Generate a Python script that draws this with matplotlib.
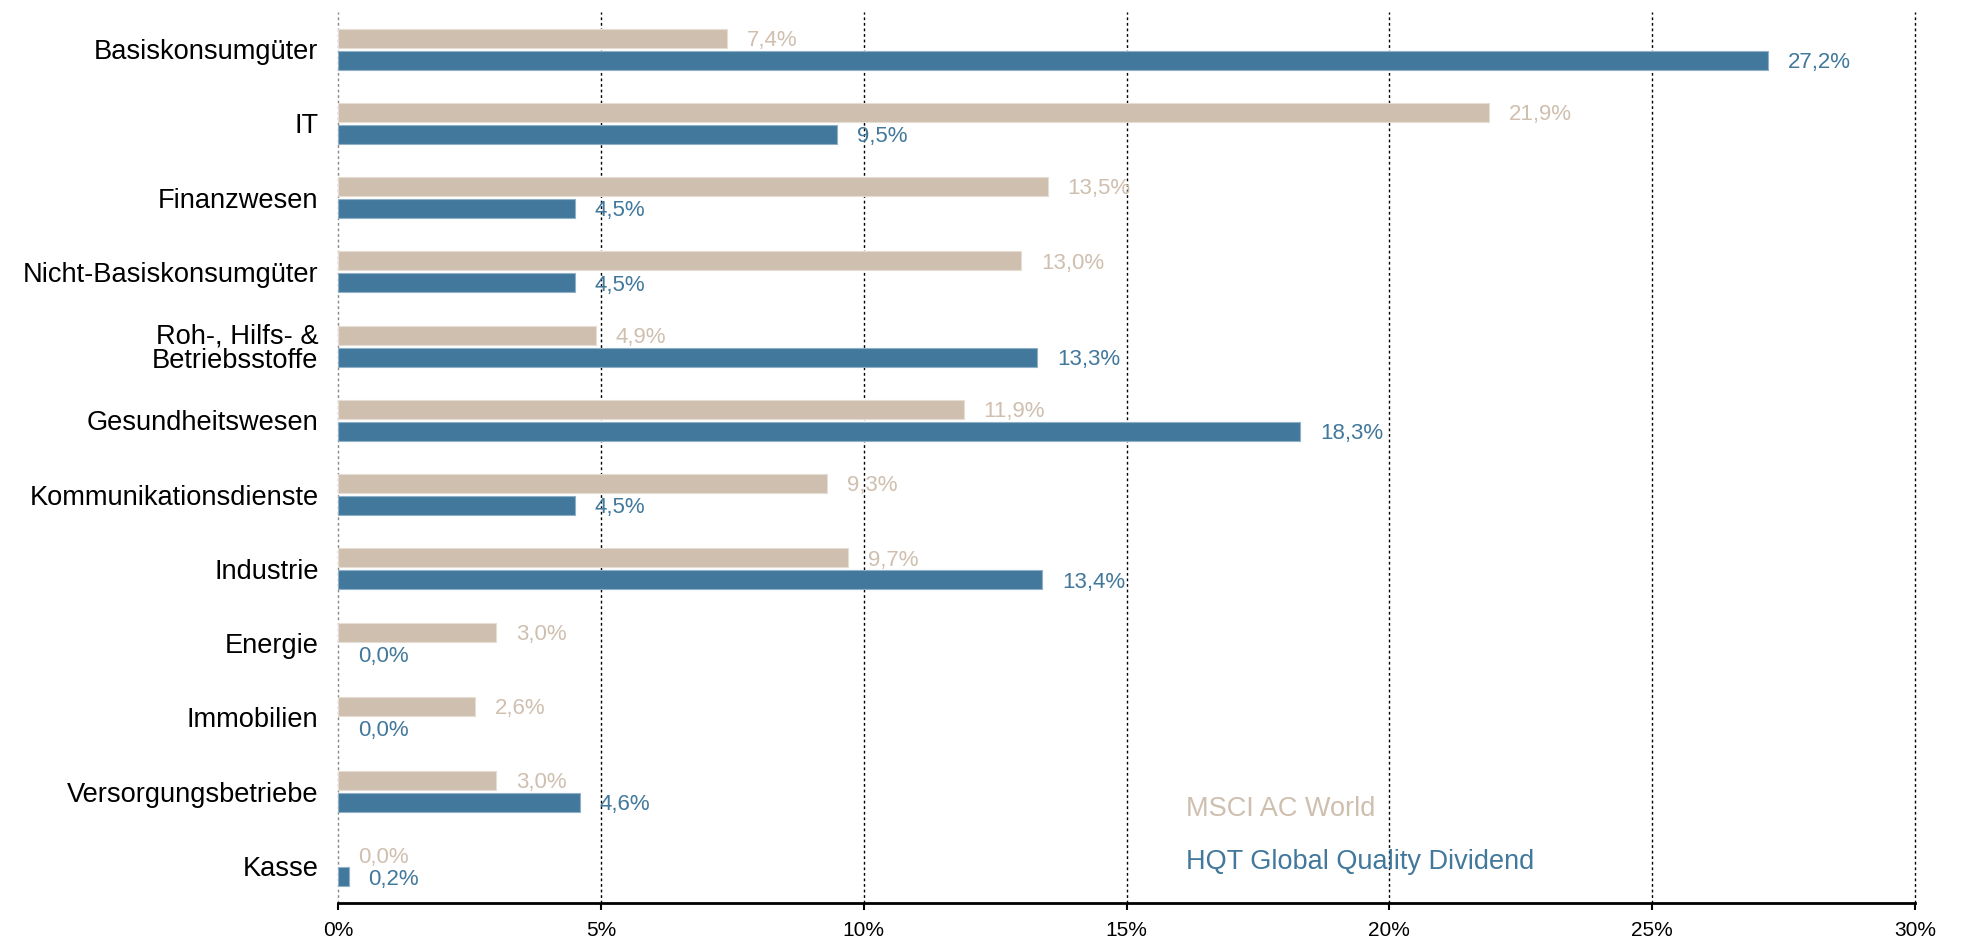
import matplotlib.pyplot as plt
import numpy as np

plt.rcParams['font.family'] = ['Liberation Sans', 'DejaVu Sans']

categories = ["Basiskonsumgüter", "IT", "Finanzwesen", "Nicht-Basiskonsumgüter",
              "Roh-, Hilfs- &\nBetriebsstoffe", "Gesundheitswesen", "Kommunikationsdienste",
              "Industrie", "Energie", "Immobilien", "Versorgungsbetriebe", "Kasse"]
msci = [7.4, 21.9, 13.5, 13.0, 4.9, 11.9, 9.3, 9.7, 3.0, 2.6, 3.0, 0.0]
hqt = [27.2, 9.5, 4.5, 4.5, 13.3, 18.3, 4.5, 13.4, 0.0, 0.0, 4.6, 0.2]
xticks = [0, 5, 10, 15, 20, 25, 30]
xticklabels = ["0%", "5%", "10%", "15%", "20%", "25%", "30%"]
series_names = ["MSCI AC World", "HQT Global Quality Dividend"]

c_msci = "#CFBFAF"
c_hqt = "#41789B"

fig = plt.figure(figsize=(19.61, 9.41), dpi=100)
ax = fig.add_axes([338/1961, 1 - 903/941, (1915-338)/1961, (903-12)/941])

y = np.arange(len(categories))
h = 0.255
off = 0.148
msci_lw = [0.8 if v > 0 else 0 for v in msci]
hqt_lw = [0.8 if v > 0 else 0 for v in hqt]
ax.barh(y - off, msci, height=h, color=c_msci, edgecolor="#e6ddd4", linewidth=msci_lw, zorder=3)
ax.barh(y + off, hqt, height=h, color=c_hqt, edgecolor="#8fb0c6", linewidth=hqt_lw, zorder=3)

dx = 0.38
for yi, v in zip(y, msci):
    ax.text(v + dx, yi - off + 0.03, f"{v:.1f}%".replace(".", ","), color=c_msci,
            fontsize=16, va="center", ha="left", zorder=4)
for yi, v in zip(y, hqt):
    ax.text(v + dx, yi + off + 0.03, f"{v:.1f}%".replace(".", ","), color=c_hqt,
            fontsize=16, va="center", ha="left", zorder=4)

ax.set_ylim(len(categories) - 0.5, -0.5)
ax.set_xlim(0, 30)
ax.set_yticks(y)
ax.set_yticklabels(categories, fontsize=19.6, linespacing=0.95)
for lbl in ax.get_yticklabels():
    lbl.set_horizontalalignment("right")
ax.tick_params(axis="y", length=0, pad=14)
ax.set_xticks(xticks)
ax.set_xticklabels(xticklabels, fontsize=15)
ax.tick_params(axis="x", length=5, width=1.5, pad=8, color="black")

for s in ["top", "right", "left"]:
    ax.spines[s].set_visible(False)
ax.spines["bottom"].set_linewidth(2)

for xv in xticks[1:]:
    ax.axvline(xv, color="black", linestyle=(0, (2, 2)), linewidth=1, zorder=1, clip_on=False)
ax.axvline(0, color="#888888", linestyle=(0, (2, 2)), linewidth=1, zorder=1, clip_on=False)

ax.text(1186, 941 - 809, series_names[0], transform=None, color=c_msci, fontsize=19.5, va="center", ha="left")
ax.text(1186, 941 - 862, series_names[1], transform=None, color=c_hqt, fontsize=19.5, va="center", ha="left")

fig.savefig("out.png", dpi=100)
